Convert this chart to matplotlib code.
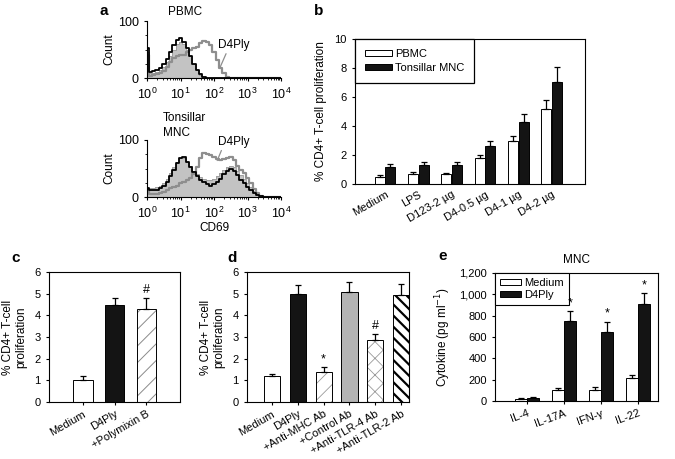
import matplotlib
matplotlib.use("Agg")
import matplotlib.pyplot as plt
import numpy as np
from matplotlib.patches import Rectangle
from matplotlib.ticker import FuncFormatter, LogLocator, NullFormatter

plt.rcParams['font.family'] = ['Liberation Sans', 'DejaVu Sans']
plt.rcParams['font.size'] = 8
plt.rcParams['axes.linewidth'] = 0.8
plt.rcParams['hatch.linewidth'] = 0.7

# ---- panel a: CD69 histograms (log10 CD69 from 0 to 4, step 0.1) ----
log_cd69 = [i / 10 for i in range(41)]
pbmc_ctrl = [45, 8, 9, 11, 14, 20, 28, 38, 50, 60, 64, 60, 50, 38, 25, 14, 6, 2, 0, 0, 0,
             0, 0, 0, 0, 0, 0, 0, 0, 0, 0, 0, 0, 0, 0, 0, 0, 0, 0, 0, 0]
pbmc_medium = [52, 10, 12, 14, 18, 24, 33, 45, 58, 66, 70, 63, 52, 38, 25, 14, 7, 2, 0, 0, 0,
               0, 0, 0, 0, 0, 0, 0, 0, 0, 0, 0, 0, 0, 0, 0, 0, 0, 0, 0, 0]
pbmc_d4ply = [40, 4, 5, 7, 9, 13, 20, 28, 35, 38, 40, 40, 45, 50, 52, 55, 62, 65, 64, 58, 45,
              32, 18, 8, 2, 0, 0, 0, 0, 0, 0, 0, 0, 0, 0, 0, 0, 0, 0, 0, 0]
mnc_ctrl = [15, 15, 16, 18, 20, 25, 32, 42, 52, 62, 68, 68, 62, 54, 45, 40, 35, 32, 30, 30, 32,
            36, 42, 48, 52, 55, 52, 45, 38, 32, 25, 18, 10, 5, 2, 0, 0, 0, 0, 0, 0]
mnc_medium = [15, 12, 12, 13, 15, 20, 27, 36, 47, 60, 68, 70, 62, 52, 43, 36, 30, 26, 22, 20, 22,
              26, 32, 40, 46, 50, 46, 38, 30, 24, 18, 12, 7, 3, 1, 0, 0, 0, 0, 0, 0]
mnc_d4ply = [12, 5, 5, 6, 7, 9, 12, 15, 18, 20, 24, 27, 30, 34, 40, 52, 68, 77, 76, 73, 70,
             67, 65, 66, 68, 70, 65, 55, 47, 42, 34, 25, 14, 7, 2, 0, 0, 0, 0, 0, 0]

# ---- panel b ----
b_groups = ['Medium', 'LPS', 'D123-2 µg', 'D4-0.5 µg', 'D4-1 µg', 'D4-2 µg']
b_pbmc = [0.45, 0.7, 0.7, 1.8, 2.95, 5.2]
b_pbmc_err = [0.15, 0.1, 0.08, 0.2, 0.35, 0.6]
b_mnc = [1.15, 1.3, 1.3, 2.6, 4.25, 7.05]
b_mnc_err = [0.25, 0.25, 0.25, 0.35, 0.55, 1.0]

# ---- panel c ----
c_groups = ['Medium', 'D4Ply', '+Polymixin B']
c_vals = [1.0, 4.5, 4.3]
c_err = [0.18, 0.32, 0.52]

# ---- panel d ----
d_groups = ['Medium', 'D4Ply', '+Anti-MHC Ab', '+Control Ab', '+Anti-TLR-4 Ab', '+Anti-TLR-2 Ab']
d_vals = [1.2, 5.0, 1.4, 5.1, 2.85, 4.93]
d_err = [0.08, 0.42, 0.22, 0.42, 0.3, 0.5]
d_marks = ['', '', '*', '', '#', '']

# ---- panel e ----
e_groups = ['IL-4', 'IL-17A', 'IFN-γ', 'IL-22']
e_medium = [15, 105, 105, 220]
e_medium_err = [15, 20, 30, 25]
e_d4ply = [30, 750, 650, 910]
e_d4ply_err = [10, 90, 90, 100]
e_marks = ['', '*', '*', '*']

W, H = 675, 459
fig = plt.figure(figsize=(6.75, 4.59), dpi=100)


def px_axes(x0, y0, x1, y1):
    return fig.add_axes([x0 / W, 1 - y1 / H, (x1 - x0) / W, (y1 - y0) / H])


def px_text(x, y, s, **kw):
    fig.text(x / W, 1 - y / H, s, **kw)


def err_up(ax, x, y, e):
    ax.errorbar(x, y, yerr=[np.zeros(len(e)), e], fmt='none', ecolor='k',
                elinewidth=0.9, capsize=2, capthick=0.9)


# histograms
def histo(ax, ctrl, med, d4):
    xs = 10 ** np.array(log_cd69)
    ax.fill_between(xs, ctrl, step='mid', color='#c3c3c3', lw=0)
    ax.plot(xs, ctrl, drawstyle='steps-mid', color='#9a9a9a', lw=0.6)
    ax.plot(xs, d4, drawstyle='steps-mid', color='#8e8e8e', lw=1.6)
    ax.plot(xs, med, drawstyle='steps-mid', color='black', lw=1.3)
    ax.set_xscale('log')
    ax.set_xlim(1, 1e4)
    ax.set_ylim(0, 100)
    ax.set_xticks([1, 10, 100, 1000, 10000])
    ax.xaxis.set_minor_locator(LogLocator(subs=np.arange(2, 10), numticks=20))
    ax.xaxis.set_minor_formatter(NullFormatter())
    ax.set_yticks([0, 100])
    ax.set_yticks([25, 50, 75], minor=True)
    ax.spines['top'].set_visible(False)
    ax.spines['right'].set_visible(False)
    ax.tick_params(which='both', direction='out', length=2.5, labelsize=9)
    ax.tick_params(which='minor', length=1.5)
    ax.set_ylabel('Count', fontsize=8.5, labelpad=2)


ax_a1 = px_axes(147, 21, 281, 78)
histo(ax_a1, pbmc_ctrl, pbmc_medium, pbmc_d4ply)
ax_a1.annotate('D4Ply', xy=(150, 18), xytext=(130, 58), fontsize=8.5,
               va='center', ha='left',
               arrowprops=dict(arrowstyle='-', color='#8e8e8e', lw=0.9,
                               shrinkA=0, shrinkB=0, relpos=(0.3, 0)))
px_text(185, 12, 'PBMC', ha='center', va='center', fontsize=8.5)

ax_a2 = px_axes(147, 140, 281, 197)
histo(ax_a2, mnc_ctrl, mnc_medium, mnc_d4ply)
ax_a2.annotate('D4Ply', xy=(125, 64), xytext=(130, 97), fontsize=8.5,
               va='center', ha='left', annotation_clip=False,
               arrowprops=dict(arrowstyle='-', color='#8e8e8e', lw=0.9,
                               shrinkA=0, shrinkB=0, relpos=(0.15, 0)))
px_text(163, 118, 'Tonsillar', ha='left', va='center', fontsize=8.5)
px_text(163, 133, 'MNC', ha='left', va='center', fontsize=8.5)
ax_a2.set_xlabel('CD69', fontsize=8.5, labelpad=1)

# panel b
ax_b = px_axes(355, 39, 585, 184)
xb = np.arange(len(b_groups))
bw = 0.3
ax_b.bar(xb - 0.16, b_pbmc, bw, color='white', edgecolor='black', lw=0.7)
ax_b.bar(xb + 0.16, b_mnc, bw, color='#141414', edgecolor='black', lw=0.7)
err_up(ax_b, xb - 0.16, b_pbmc, b_pbmc_err)
err_up(ax_b, xb + 0.16, b_mnc, b_mnc_err)
ax_b.set_xlim(-0.9, 6.0)
ax_b.set_ylim(0, 10)
ax_b.set_yticks(range(0, 11, 2))
ax_b.set_xticks(xb)
ax_b.set_xticklabels(b_groups, rotation=30, ha='right', rotation_mode='anchor')
ax_b.tick_params(axis='x', length=0, pad=4, labelsize=8)
ax_b.tick_params(axis='y', direction='out', length=2.5, labelsize=8)
ax_b.set_ylabel('% CD4+ T-cell proliferation', fontsize=8.5, labelpad=5)
hb = [Rectangle((0, 0), 1, 1, fc='white', ec='black', lw=0.7),
      Rectangle((0, 0), 1, 1, fc='#141414', ec='black', lw=0.7)]
leg = ax_b.legend(hb, ['PBMC', 'Tonsillar MNC'], loc='upper left',
                  bbox_to_anchor=(0, 1), borderaxespad=0, fancybox=False,
                  edgecolor='black', framealpha=1, handlelength=2.4,
                  handleheight=0.45, fontsize=8, borderpad=0.9, labelspacing=0.35,
                  handletextpad=0.3)
leg.get_frame().set_linewidth(0.9)


def plain_bars(ax, x, vals, styles):
    for xi, v, (fc, hatch, hc, hlw) in zip(x, vals, styles):
        if hatch:
            p = ax.bar(xi, v, 0.62, color=fc, edgecolor=hc, lw=0, hatch=hatch)
            for patch in p:
                if hasattr(patch, 'set_hatch_linewidth'):
                    patch.set_hatch_linewidth(hlw)
            ax.bar(xi, v, 0.62, fill=False, edgecolor='black', lw=0.7)
        else:
            ax.bar(xi, v, 0.62, color=fc, edgecolor='black', lw=0.7)


# panel c
ax_c = px_axes(49, 272, 180, 402)
xc = np.arange(len(c_groups))
plain_bars(ax_c, xc, c_vals, [('white', '', None, 0), ('#141414', '', None, 0),
                              ('white', '//', '#8a8a8a', 0.7)])
err_up(ax_c, xc, c_vals, c_err)
ax_c.text(2, c_vals[2] + c_err[2] + 0.08, '#', ha='center', va='bottom', fontsize=9)
ax_c.set_xlim(-1.07, 3.06)
ax_c.set_ylim(0, 6)
ax_c.set_yticks(range(7))
ax_c.set_xticks(xc)
ax_c.set_xticklabels(c_groups, rotation=30, ha='right', rotation_mode='anchor')
ax_c.tick_params(axis='x', direction='out', length=2, pad=3, labelsize=8)
ax_c.tick_params(axis='y', direction='out', length=2.5, labelsize=8)
ax_c.set_ylabel('% CD4+ T-cell\nproliferation', fontsize=8.5, labelpad=5)

# panel d
ax_d = px_axes(247, 272, 409, 402)
xd = np.arange(len(d_groups))
plain_bars(ax_d, xd, d_vals, [('white', '', None, 0), ('#141414', '', None, 0),
                              ('white', '//', '#9a9a9a', 0.6),
                              ('#b4b4b4', '', None, 0),
                              ('white', 'xx', '#9a9a9a', 0.6),
                              ('white', '\\\\\\', 'black', 1.6)])
err_up(ax_d, xd, d_vals, d_err)
for xi, v, e, m in zip(xd, d_vals, d_err, d_marks):
    if m:
        ax_d.text(xi, v + e + 0.08, m, ha='center', va='bottom', fontsize=9)
ax_d.set_xlim(-0.96, 5.3)
ax_d.set_ylim(0, 6)
ax_d.set_yticks(range(7))
ax_d.set_xticks(xd)
ax_d.set_xticklabels(d_groups, rotation=30, ha='right', rotation_mode='anchor')
ax_d.tick_params(axis='x', direction='out', length=2, pad=3, labelsize=8)
ax_d.tick_params(axis='y', direction='out', length=2.5, labelsize=8)
ax_d.set_ylabel('% CD4+ T-cell\nproliferation', fontsize=8.5, labelpad=5)

# panel e
ax_e = px_axes(495, 273, 658, 401)
xe = np.arange(len(e_groups))
ew = 0.31
ax_e.bar(xe - 0.16, e_medium, ew, color='white', edgecolor='black', lw=0.7)
ax_e.bar(xe + 0.16, e_d4ply, ew, color='#141414', edgecolor='black', lw=0.7)
err_up(ax_e, xe - 0.16, e_medium, e_medium_err)
err_up(ax_e, xe + 0.16, e_d4ply, e_d4ply_err)
for xi, v, e, m in zip(xe, e_d4ply, e_d4ply_err, e_marks):
    if m:
        ax_e.text(xi + 0.16, v + e + 20, m, ha='center', va='bottom', fontsize=9,
                  zorder=8)
ax_e.set_xlim(-0.86, 3.54)
ax_e.set_ylim(0, 1200)
ax_e.set_yticks(range(0, 1201, 200))
ax_e.yaxis.set_major_formatter(FuncFormatter(lambda v, p: f'{int(v):,}'))
ax_e.set_xticks(xe)
ax_e.set_xticklabels(e_groups, rotation=20, ha='right', rotation_mode='anchor')
ax_e.tick_params(axis='x', direction='out', length=2, pad=3, labelsize=8)
ax_e.tick_params(axis='y', direction='out', length=2.5, labelsize=8)
ax_e.set_ylabel('Cytokine (pg ml$^{-1}$)', fontsize=8.5, labelpad=4)
ax_e.set_title('MNC', fontsize=8.5, pad=7)
he = [Rectangle((0, 0), 1, 1, fc='white', ec='black', lw=0.7),
      Rectangle((0, 0), 1, 1, fc='#141414', ec='black', lw=0.7)]
leg = ax_e.legend(he, ['Medium', 'D4Ply'], loc='upper left',
                  bbox_to_anchor=(0, 1), borderaxespad=0, fancybox=False,
                  edgecolor='black', framealpha=1, handlelength=1.9,
                  handleheight=0.45, fontsize=8, borderpad=0.45, labelspacing=0.2,
                  handletextpad=0.3)
leg.get_frame().set_linewidth(0.8)
leg.set_zorder(4)

# panel letters
for (x, y), s in zip([(104, 11), (319, 11), (16, 258), (232, 258), (443, 256)],
                     ['a', 'b', 'c', 'd', 'e']):
    px_text(x, y, s, ha='center', va='center', fontsize=11, fontweight='bold')

fig.savefig('out.png', dpi=100)
